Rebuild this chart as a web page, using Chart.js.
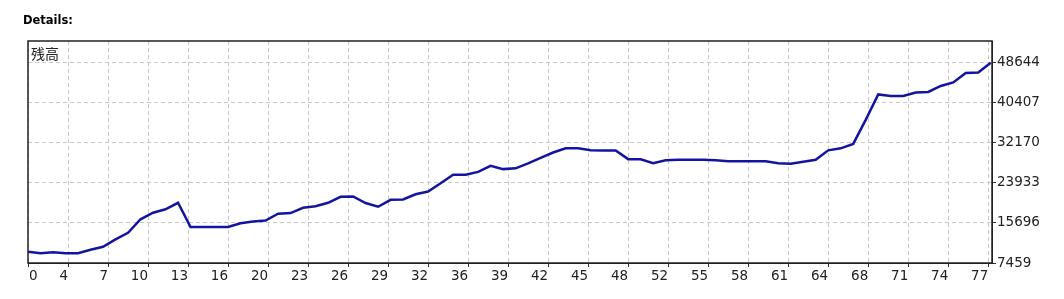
<html>
<head>
<title>Details</title>
<script src="https://cdn.jsdelivr.net/npm/chart.js/dist/chart.umd.min.js"></script>
<style>
  body { margin: 0; background: #fff; }
</style>
</head>
<body>
<canvas id="myChart" width="1064" height="299"></canvas>
<script>
// balance after each trade
var balance = [9780, 9470, 9680, 9470, 9470, 10190, 10800, 12300, 13680, 16450,
    17790, 18500, 19840, 14850, 14850, 14850, 14850, 15630, 16000, 16200,
    17580, 17720, 18810, 19120, 19840, 21070, 21130, 19780, 19020, 20450,
    20520, 21580, 22160, 23840, 25590, 25590, 26200, 27440, 26760, 26920,
    27950, 29080, 30170, 31030, 31070, 30620, 30580, 30580, 28810, 28770,
    27990, 28560, 28670, 28670, 28670, 28560, 28400, 28400, 28400, 28400,
    27990, 27850, 28260, 28670, 30620, 31030, 31950, 36880, 42110, 41810,
    41810, 42520, 42630, 43860, 44580, 46530, 46630, 48644];
var xTickPositions = [0, 3.2, 6.4, 9.6, 12.8, 16, 19.2, 22.4, 25.6, 28.8, 32, 35.2,
    38.4, 41.6, 44.8, 48, 51.2, 54.4, 57.6, 60.8, 64, 67.2, 70.4, 73.6, 76.8];
var xTickLabels = ['0', '4', '7', '10', '13', '16', '20', '23', '26', '29', '32', '36',
    '39', '42', '45', '48', '52', '55', '58', '61', '64', '68', '71', '74', '77'];
var yTicks = [7459, 15696, 23933, 32170, 40407, 48644];
var seriesName = '残高';
var heading = 'Details:';

var points = balance.map((v, i) => ({x: i, y: v}));

var textPlugin = {
    id: 'mtText',
    afterDraw(chart) {
        var ctx = chart.ctx;
        var a = chart.chartArea;
        var xs = chart.scales.x;
        ctx.save();
        // frame
        ctx.strokeStyle = '#222';
        ctx.lineWidth = 1.5;
        ctx.strokeRect(a.left, a.top, a.right - a.left, a.bottom - a.top);
        // x labels, right aligned to the tick like the original
        ctx.fillStyle = '#222';
        ctx.font = '13.5px "DejaVu Sans"';
        ctx.textBaseline = 'middle';
        xTickPositions.forEach((p, i) => {
            var px = xs.getPixelForValue(p);
            if (i === 0) {
                ctx.textAlign = 'left';
                ctx.fillText(xTickLabels[i], px + 1, 276);
            } else {
                ctx.textAlign = 'right';
                ctx.fillText(xTickLabels[i], px, 276);
            }
        });
        // series name
        ctx.textAlign = 'left';
        ctx.font = '14px "Noto Sans CJK JP"';
        ctx.fillText(seriesName, a.left + 3, a.top + 13);
        // heading
        ctx.font = 'bold 11.5px "DejaVu Sans"';
        ctx.textBaseline = 'alphabetic';
        ctx.fillStyle = '#000';
        ctx.fillText(heading, 23, 24);
        ctx.restore();
    }
};

const ctx = document.getElementById('myChart').getContext('2d');
const myChart = new Chart(ctx, {
    type: 'line',
    data: {
        datasets: [{
            label: seriesName,
            data: points,
            borderColor: '#1414a0',
            backgroundColor: '#1414a0',
            borderWidth: 2.5,
            pointRadius: 0,
            tension: 0,
        }],
    },
    options: {
        responsive: false,
        animation: false,
        devicePixelRatio: 1,
        layout: {padding: {left: 28, top: 41, right: 0, bottom: 0}},
        plugins: {
            legend: {display: false},
            tooltip: {enabled: false},
        },
        scales: {
            x: {
                type: 'linear',
                min: 0,
                max: 77.1,
                afterBuildTicks: s => { s.ticks = xTickPositions.map(v => ({value: v})); },
                afterFit: s => { s.height = 36; },
                ticks: {display: false, autoSkip: false},
                grid: {color: '#c8c8c8', tickColor: '#333', tickLength: 4},
                border: {color: '#222', dash: [4, 3]},
            },
            y: {
                position: 'right',
                min: 7459,
                max: 53100,
                afterBuildTicks: s => { s.ticks = yTicks.map(v => ({value: v})); },
                afterFit: s => { s.width = 72; },
                ticks: {
                    autoSkip: false,
                    padding: 1,
                    color: '#222',
                    font: {family: 'DejaVu Sans', size: 13.5},
                    callback: v => String(v),
                },
                grid: {color: '#c8c8c8', tickColor: '#333', tickLength: 4},
                border: {color: '#222', dash: [4, 3]},
            },
        },
    },
    plugins: [textPlugin],
});
</script>
</body>
</html>
